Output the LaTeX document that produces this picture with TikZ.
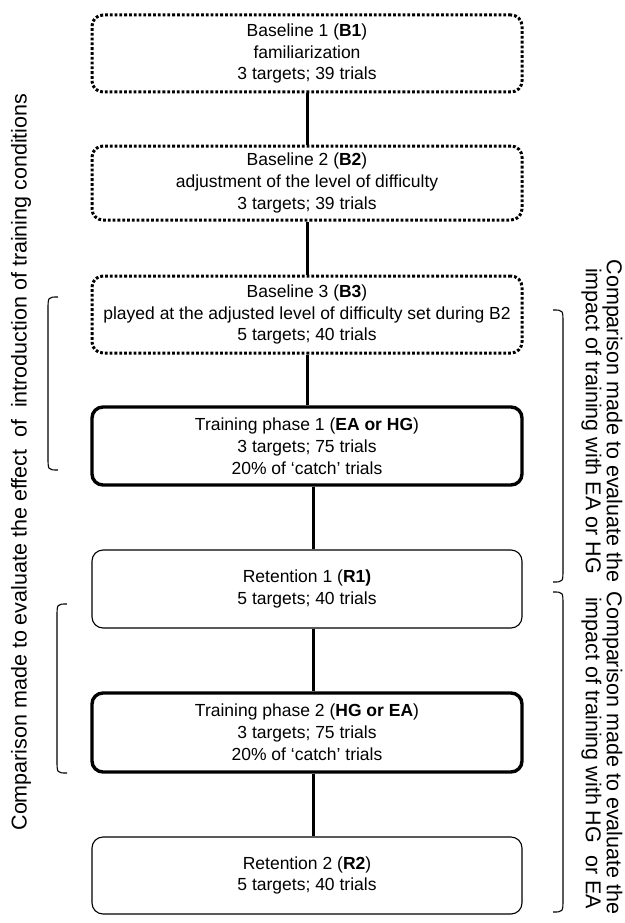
\documentclass[tikz,border=0pt]{standalone}
\usepackage{fontspec}
\setmainfont{Liberation Sans}
\begin{document}
\begin{tikzpicture}[x=1pt,y=-1pt,
  box/.style={rounded corners=11pt, minimum width=430pt, align=center,
    font=\fontsize{17.5}{21.8}\selectfont, inner sep=0pt},
  dotbox/.style={box, draw, line width=3pt, dash pattern=on 2.8pt off 2pt},
  thickbox/.style={box, draw, line width=3.4pt},
  thinbox/.style={box, draw, line width=1.1pt},
  conn/.style={line width=3pt},
  brk/.style={line width=1.1pt},
  side/.style={font=\fontsize{21.5}{21}\selectfont, align=center, inner sep=0pt}]
\useasboundingbox (0,0) rectangle (624,923);

\node[dotbox, minimum height=77pt] (b1) at (307,53.5)
  {Baseline 1 (\textbf{B1})\\familiarization\\3 targets; 39 trials};
\node[dotbox, minimum height=74pt] (b2) at (307,183)
  {Baseline 2 (\textbf{B2})\\adjustment of the level of difficulty\\3 targets; 39 trials};
\node[dotbox, minimum height=77pt] (b3) at (307,314.5)
  {Baseline 3 (\textbf{B3})\\played at the adjusted level of difficulty set during B2\\5 targets; 40 trials};
\node[thickbox, minimum height=78pt] (t1) at (307,446)
  {Training phase 1 (\textbf{EA or HG})\\3 targets; 75 trials\\20\% of `catch' trials};
\node[thinbox, minimum height=78pt] (r1) at (307,589)
  {Retention 1 (\textbf{R1)}\\5 targets; 40 trials};
\node[thickbox, minimum height=79pt] (t2) at (307,732.5)
  {Training phase 2 (\textbf{HG or EA})\\3 targets; 75 trials\\20\% of `catch' trials};
\node[thinbox, minimum height=77pt] (r2) at (307,875.5)
  {Retention 2 (\textbf{R2})\\5 targets; 40 trials};

\draw[conn] (b1) -- (b2);
\draw[conn] (b2) -- (b3);
\draw[conn] (b3) -- (t1);
\draw[conn] ([xshift=6pt]t1.south) -- ([xshift=6pt]r1.north);
\draw[conn] ([xshift=6pt]r1.south) -- ([xshift=6pt]t2.north);
\draw[conn] ([xshift=6pt]t2.south) -- ([xshift=6pt]r2.north);

% brackets
\draw[brk] (58,297) .. controls (48,297) .. (48,310) -- (48,457) .. controls (48,470) .. (58,470);
\draw[brk] (67,604) .. controls (57,604) .. (57,617) -- (57,760) .. controls (57,773) .. (67,773);
\draw[brk] (553,310) .. controls (563,310) .. (563,323) -- (563,569) .. controls (563,582) .. (553,582);
\draw[brk] (553,592) .. controls (563,592) .. (563,605) -- (563,899) .. controls (563,912) .. (553,912);

\node[side, rotate=90] (lt) at (21,462)
  {Comparison made to evaluate the effect~~of~~introduction of training conditions};
\node[side, rotate=-90] (rt1) at (602,421)
  {Comparison made to evaluate the\\impact of training with EA or HG};
\node[side, rotate=-90] (rt2) at (602,753)
  {Comparison made to evaluate the\\impact of training with HG~~or EA};
\end{tikzpicture}
\end{document}
